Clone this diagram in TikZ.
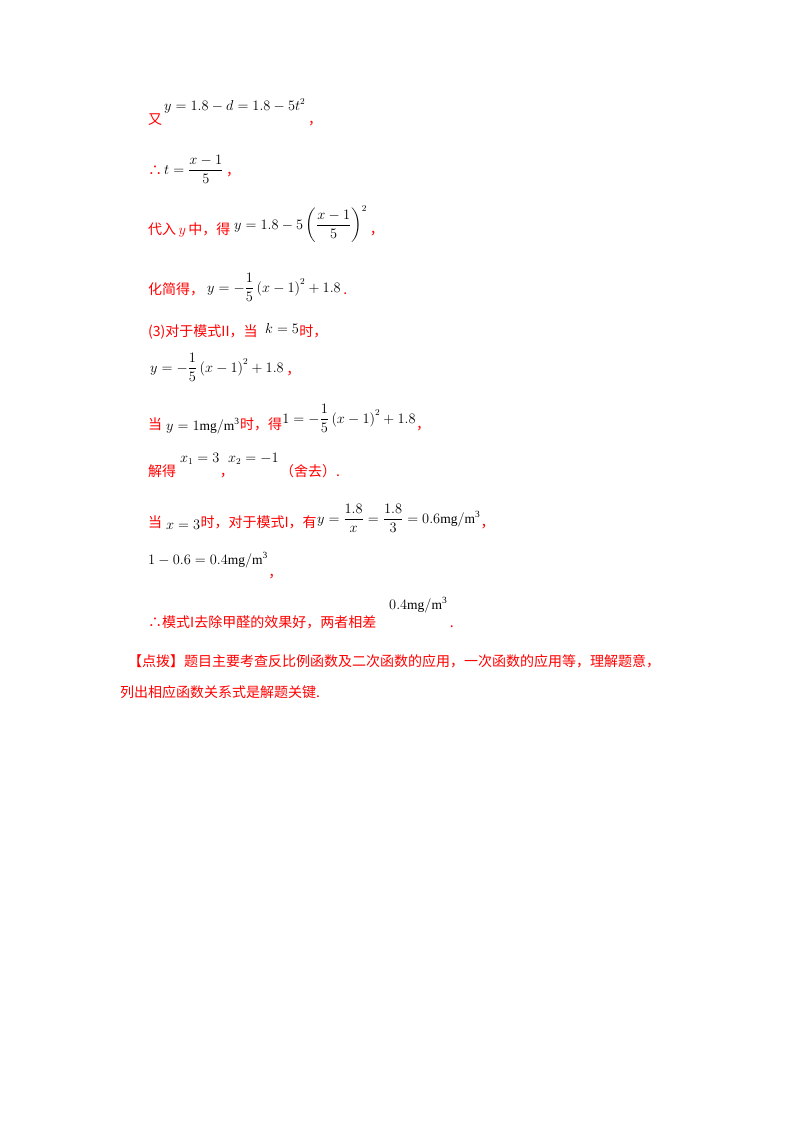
\documentclass[tikz,border=0pt]{standalone}
\usepackage{amsmath}
\usepackage{fontspec}
\setmainfont{Liberation Serif}
\newfontfamily\cjk{Noto Sans CJK SC}
\begin{document}
\begin{tikzpicture}[x=1pt,y=-1pt,
 zh/.style={anchor=base west,inner sep=0pt,text=red,font=\cjk\fontsize{14}{16}\selectfont},
 mt/.style={anchor=base west,inner sep=0pt,font=\fontsize{13.5}{15}\selectfont}]
\useasboundingbox[fill=white] (0,0) rectangle (800,1132);
\node[zh] (a1) at (148,124) {又};
\node[mt] (a2) at (164,110) {$y=1.8-d=1.8-5t^2$};
\node[zh] (a3) at (a2.east |- 0,124) {\,，};
\node[zh] (b1) at (148,175) {∴};
\node[mt] (b2) at (164,174) {$t=\dfrac{x-1}{5}$};
\node[zh] (b3) at (b2.east |- 0,175) {\,，};
\node[zh] (c1) at (148,234) {代入\,$y$\,中，得};
\node[mt] (c2) at (234,229) {$y=1.8-5\left(\dfrac{x-1}{5}\right)^2$};
\node[zh] (c3) at (c2.east |- 0,234) {\,，};
\node[zh] (d1) at (148,294) {化简得，};
\node[mt] (d2) at (207,292) {$y=-\dfrac15\left(x-1\right)^2+1.8$};
\node[zh] (d3) at (d2.east |- 0,294) {\,.};
\node[zh] (e1) at (148,336) {(3)对于模式II，当};
\node[mt] (e2) at (265,333) {$k=5$};
\node[zh] (e3) at (e2.east |- 0,336) {时，};
\node[mt] (f1) at (150,372) {$y=-\dfrac15\left(x-1\right)^2+1.8$};
\node[zh] (f2) at (f1.east |- 0,374) {\,，};
\node[zh] (g1) at (148,429) {当};
\node[mt] (g2) at (166,430) {$y=1\mathrm{mg/m^3}$};
\node[zh] (g3) at (g2.east |- 0,429) {时，得};
\node[mt] (g4) at (g3.east |- 0,423) {$1=-\dfrac15\left(x-1\right)^2+1.8$};
\node[zh] (g5) at (g4.east |- 0,429) {，};
\node[zh] (h1) at (148,476) {解得};
\node[mt] (h2) at (180,462) {$x_1=3$};
\node[zh] (h3) at (h2.east |- 0,476) {，};
\node[mt] (h4) at (228,462) {$x_2=-1$};
\node[zh] (h5) at (280,476) {（舍去）.};
\node[zh] (i1) at (148,527) {当};
\node[mt] (i2) at (166,529) {$x=3$};
\node[zh] (i3) at (i2.east |- 0,527) {时，对于模式I，有};
\node[mt] (i4) at (i3.east |- 0,523) {$y=\dfrac{1.8}{x}=\dfrac{1.8}{3}=0.6\mathrm{mg/m^3}$};
\node[zh] (i5) at (i4.east |- 0,527) {，};
\node[mt] (j1) at (148,564) {$1-0.6=0.4\mathrm{mg/m^3}$};
\node[zh] (j2) at (j1.east |- 0,577) {，};
\node[zh] (k1) at (148,627) {∴模式I去除甲醛的效果好，两者相差};
\node[mt] (k2) at (389,609) {$0.4\mathrm{mg/m^3}$};
\node[zh] (k3) at (k2.east |- 0,627) {\,.};
\node[zh] (l1) at (128,666) {【点拨】题目主要考查反比例函数及二次函数的应用，一次函数的应用等，理解题意，};
\node[zh] (l2) at (120,697) {列出相应函数关系式是解题关键.};
\end{tikzpicture}
\end{document}
